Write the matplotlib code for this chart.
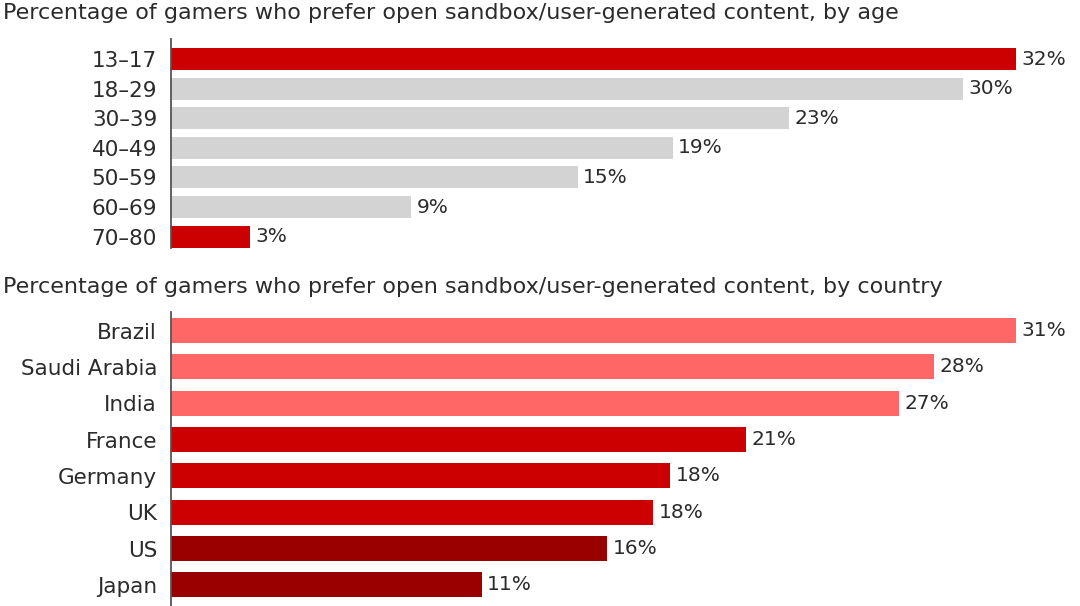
import matplotlib
matplotlib.use("Agg")
import matplotlib.pyplot as plt

plt.rcParams['font.family'] = ['DejaVu Sans']

# age panel
ages = ["13–17", "18–29", "30–39", "40–49", "50–59", "60–69", "70–80"]
age_pct = [32.0, 30.0, 23.4, 19.0, 15.4, 9.1, 3.0]
age_colors = ["#cc0000", "#d3d3d3", "#d3d3d3", "#d3d3d3", "#d3d3d3", "#d3d3d3", "#cc0000"]

# country panel
countries = ["Brazil", "Saudi Arabia", "India", "France", "Germany", "UK", "US", "Japan"]
country_pct = [31.0, 28.0, 26.7, 21.1, 18.3, 17.7, 16.0, 11.4]
country_colors = ["#ff6666", "#ff6666", "#ff6666", "#cc0000", "#cc0000", "#cc0000", "#990000", "#990000"]

title_age = "Percentage of gamers who prefer open sandbox/user-generated content, by age"
title_country = "Percentage of gamers who prefer open sandbox/user-generated content, by country"

TEXT = "#2b2b2b"
W, H = 1080, 606

fig = plt.figure(figsize=(10.8, 6.06), dpi=100)


def px_axes(top_px, bottom_px):
    left = 171 / W
    return fig.add_axes([left, 1 - bottom_px / H, 1 - left, (bottom_px - top_px) / H])


def draw(ax, labels, vals, colors, height, ylim):
    y = list(range(len(labels)))
    ax.barh(y, vals, height=height, color=colors)
    ax.set_xlim(0, max(vals) * 1.0757)
    ax.set_ylim(*ylim)
    ax.set_yticks(y)
    ax.set_yticklabels(labels, fontsize=15.5, color=TEXT)
    ax.tick_params(axis='y', length=0, pad=10)
    ax.set_xticks([])
    for s in ['top', 'right', 'bottom']:
        ax.spines[s].set_visible(False)
    ax.spines['left'].set_color("#555555")
    ax.spines['left'].set_linewidth(1.3)
    for yi, v in zip(y, vals):
        ax.annotate(f"{v:.0f}%", (v, yi), xytext=(4, 0), textcoords='offset points',
                    va='center', ha='left', fontsize=14.5, color=TEXT)


ax1 = px_axes(39, 248)
draw(ax1, ages, age_pct, age_colors, 0.74, (6.385, -0.676))

ax2 = px_axes(312, 606)
draw(ax2, countries, country_pct, country_colors, 0.69, (7.58, -0.51))

fig.text(3 / W, 1 - 19 / H, title_age, fontsize=16, color=TEXT, va='baseline', ha='left')
fig.text(3 / W, 1 - 293 / H, title_country, fontsize=16, color=TEXT, va='baseline', ha='left')

fig.savefig("out.png", dpi=100)
